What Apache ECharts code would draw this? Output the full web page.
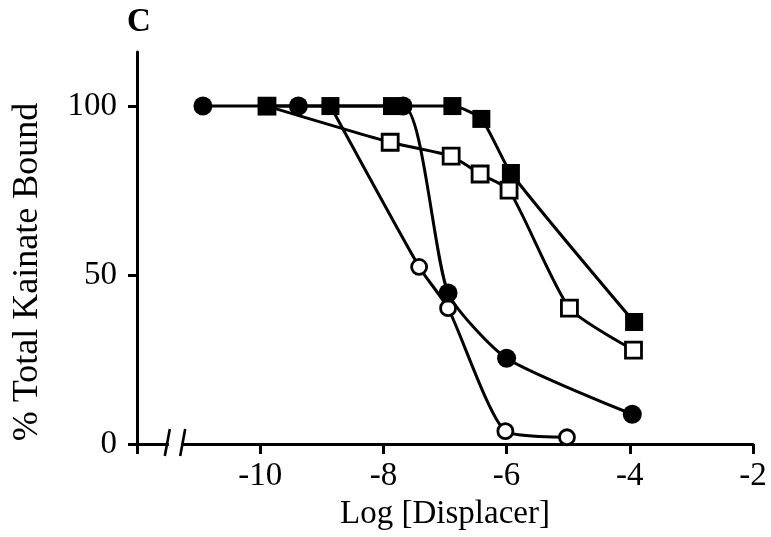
<!DOCTYPE html>
<html><head><meta charset="utf-8">
<script src="https://cdn.jsdelivr.net/npm/echarts@6/dist/echarts.min.js"></script>
<style>html,body{margin:0;padding:0;background:#fff}#c{width:771px;height:537px}</style>
</head><body><div id="c"></div>
<script>
// tick labels
const yTickValues = [0, 50, 100];
const xTickValues = [-10, -8, -6, -4, -2];
const xTickMarks = [-12, -10, -8, -6, -4, -2];
// series: [log concentration, % total kainate bound]
const filledCircle = [[-10.93,100],[-9.38,100],[-7.68,100],[-6.95,44.7],[-6.0,25.4],[-3.96,8.8]];
const filledSquare = [[-9.89,100],[-8.86,100],[-7.86,100],[-6.88,100],[-6.41,96.2],[-5.93,80.2],[-3.93,36.1]];
const openSquare   = [[-9.89,100],[-7.89,89.3],[-6.9,85.2],[-6.43,79.9],[-5.96,75.1],[-4.98,40.2],[-3.94,27.8]];
const openCircle   = [[-8.86,100],[-7.42,52.4],[-6.95,40.2],[-6.02,3.8],[-5.02,2.0]];
const xName = 'Log [Displacer]';
const yName = '% Total Kainate Bound';
const panel = 'C';

const FONT = '"Liberation Serif", "Times New Roman", serif';
const chart = echarts.init(document.getElementById('c'), null, {renderer:'canvas'});
const lineW = 3;
function ser(data, symbol, size, filled, z){
  return {type:'line', data, symbol, symbolSize:size, smooth:0.2, z,
    lineStyle:{color:'#000', width:lineW},
    itemStyle:{color: filled ? '#000' : '#fff', borderColor:'#000', borderWidth: filled ? 0 : 2.8},
    emphasis:{disabled:true}, animation:false};
}
chart.setOption({
  backgroundColor:'#fff',
  animation:false,
  grid:{left:137, right:18, top:52, bottom:93, containLabel:false, outerBoundsMode:'none'},
  xAxis:{type:'value', min:-12, max:-2, interval:2,
    axisLine:{onZero:false, lineStyle:{color:'#000', width:lineW}},
    axisTick:{show:true, length:10, lineStyle:{color:'#000', width:lineW}, customValues:xTickMarks},
    axisLabel:{customValues:xTickValues, formatter:v=>String(v), fontFamily:FONT, fontSize:33, color:'#000', margin:16},
    splitLine:{show:false},
    name:xName, nameLocation:'middle', nameGap:52,
    nameTextStyle:{fontFamily:FONT, fontSize:33, color:'#000'}},
  yAxis:{type:'value', min:0, max:116, interval:50,
    axisLine:{show:true, lineStyle:{color:'#000', width:lineW}},
    axisTick:{show:true, length:9, lineStyle:{color:'#000', width:lineW}, customValues:yTickValues},
    axisLabel:{customValues:yTickValues, fontFamily:FONT, fontSize:33, color:'#000', margin:20},
    splitLine:{show:false}},
  series:[
    ser(openCircle,'circle',15,false,2),
    ser(openSquare,'rect',16,false,3),
    ser(filledCircle,'circle',19,true,4),
    ser(filledSquare,'rect',18,true,5)
  ]
});
// axis break marks, panel letter and rotated y-axis title, placed from axis conversions
const p1 = chart.convertToPixel({gridIndex:0}, [-11.5, 0]);
const p2 = chart.convertToPixel({gridIndex:0}, [-11.25, 0]);
const top100 = chart.convertToPixel({gridIndex:0}, [-12, 100]);
const base0 = chart.convertToPixel({gridIndex:0}, [-12, 0]);
chart.setOption({graphic:[
  {type:'rect', shape:{x:p1[0]+1, y:p1[1]-4, width:p2[0]-p1[0]-3, height:8}, style:{fill:'#fff'}, z:100},
  {type:'line', shape:{x1:p1[0]+2, y1:p1[1]-15, x2:p1[0]-3, y2:p1[1]+12}, style:{stroke:'#000', lineWidth:2.6}, z:101},
  {type:'line', shape:{x1:p2[0]+2, y1:p2[1]-15, x2:p2[0]-3, y2:p2[1]+12}, style:{stroke:'#000', lineWidth:2.6}, z:101},
  {type:'text', x:top100[0]+2, y:22, style:{text:panel, font:'bold 33px '+FONT, fill:'#000', align:'center', verticalAlign:'middle'}, z:101},
  {type:'text', x:28, y:(top100[1]+base0[1])/2-3, rotation:Math.PI/2,
   style:{text:yName, font:'36px '+FONT, fill:'#000', align:'center', verticalAlign:'middle'}, z:101}
]});
</script></body></html>
